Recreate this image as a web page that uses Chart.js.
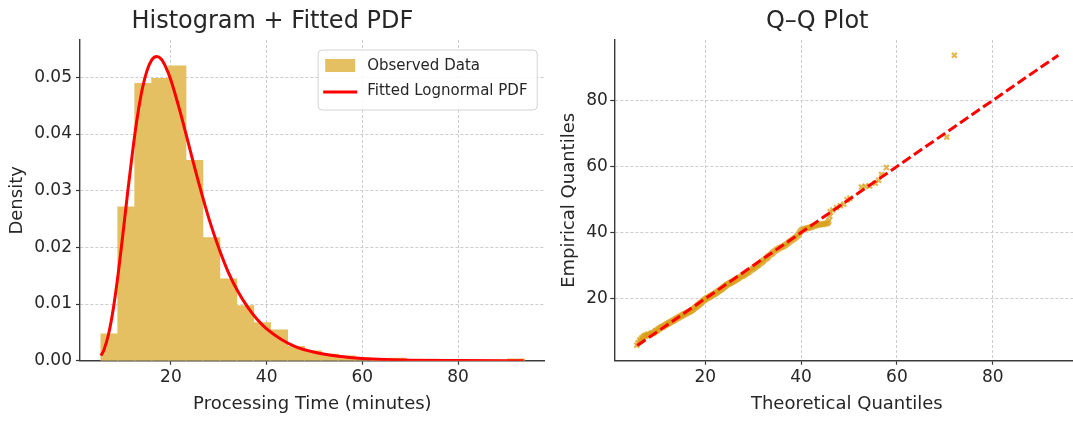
<!DOCTYPE html>
<html><head><meta charset="utf-8">
<script src="https://cdn.jsdelivr.net/npm/chart.js@4.4.0/dist/chart.umd.min.js"></script>
<style>
html,body{margin:0;padding:0;background:#fff;overflow:hidden;width:1073px;height:421px;position:relative;}
#c1{position:absolute;left:0;top:0;}
#c2{position:absolute;left:555px;top:0;}
</style></head><body>
<canvas id="c1" width="560" height="421"></canvas>
<canvas id="c2" width="540" height="421"></canvas>
<script>
// ---------- data ----------
const histTitle = 'Histogram + Fitted PDF';
const qqTitle = 'Q–Q Plot';
const histBinStart = 5.4;
const histBinWidth = 3.54;
const histDensity = [0.0047, 0.0271, 0.0489, 0.0498, 0.0520, 0.0353, 0.0217, 0.0144, 0.0097, 0.0067,
                     0.0054, 0.0025, 0.0017, 0.0011, 0.0008, 0.0004, 0.0000, 0.0004, 0.0000, 0.0000,
                     0.0000, 0.0000, 0.0000, 0.0000, 0.0003];
const pdfX = [5.4, 6, 7, 8, 9, 10, 11, 12, 13, 14, 15, 16, 17, 18, 19, 20, 22, 24, 26, 28, 30, 32, 34, 36, 38, 40,
              43, 46, 50, 55, 60, 65, 70, 80, 93.7];
const pdfY = [0.0009, 0.0019, 0.0048, 0.0094, 0.0155, 0.0226, 0.0300, 0.0370, 0.0431, 0.0479, 0.0512, 0.0531,
              0.0537, 0.0532, 0.0517, 0.0495, 0.0437, 0.0372, 0.0308, 0.0249, 0.0199, 0.0156, 0.0122, 0.0095,
              0.0073, 0.0056, 0.0038, 0.0025, 0.0015, 0.0008, 0.0004, 0.0002, 0.0001, 0.00003, 0.000005];
const histXTicks = [20, 40, 60, 80];
const histYTicks = [0, 0.01, 0.02, 0.03, 0.04, 0.05];

const qqTheoretical = [5.7, 6.0, 6.3, 6.5, 6.7, 6.9, 7.0, 7.2, 7.4, 7.6, 7.8, 8.0, 8.2, 8.4, 8.6, 8.8, 9.0, 9.2, 9.4,
  9.6, 9.8, 10.0, 10.2, 10.4, 10.6, 10.8, 11.0, 11.2, 11.4, 11.6, 11.8, 12.0, 12.2, 12.4, 12.6, 12.8, 13.0, 13.2,
  13.4, 13.6, 13.8, 14.0, 14.2, 14.4, 14.6, 14.8, 15.0, 15.2, 15.4, 15.6, 15.8, 16.0, 16.2, 16.4, 16.6, 16.8, 17.0,
  17.2, 17.4, 17.6, 17.8, 18.0, 18.2, 18.4, 18.6, 18.8, 19.0, 19.2, 19.4, 19.6, 19.8, 20.0, 20.2, 20.4, 20.6, 20.8,
  21.0, 21.2, 21.4, 21.6, 21.8, 22.0, 22.2, 22.4, 22.6, 22.8, 23.0, 23.2, 23.4, 23.6, 23.8, 24.0, 24.2, 24.4, 24.6,
  24.8, 25.0, 25.2, 25.4, 25.6, 25.8, 26.0, 26.2, 26.4, 26.6, 26.8, 27.0, 27.2, 27.5, 27.8, 28.0, 28.2, 28.5, 28.8,
  29.0, 29.2, 29.5, 29.8, 30.0, 30.2, 30.5, 30.8, 31.0, 31.2, 31.5, 31.8, 32.0, 32.2, 32.5, 32.8, 33.0, 33.2, 33.5,
  33.8, 34.0, 34.3, 34.6, 34.9, 35.2, 35.5, 35.8, 36.1, 36.4, 36.7, 37.0, 37.3, 37.6, 37.9, 38.2, 38.5, 38.8, 39.1,
  39.4, 39.6, 39.8, 40.0, 40.3, 40.6, 40.9, 41.2, 41.5, 41.8, 42.1, 42.4, 42.8, 43.1, 43.4, 43.8, 44.1, 44.5, 44.8,
  45.1, 45.4, 45.6, 45.8, 46.0, 46.1, 46.6, 47.4, 48.2, 48.9, 49.6, 50.2, 52.6, 53.4, 54.3, 55.5, 56.2, 56.8, 57.8,
  70.4, 72.0];
const qqEmpirical = [5.9, 6.6, 7.5, 7.2, 8.0, 7.7, 8.3, 8.6, 8.8, 8.7, 9.0, 9.2, 9.1, 9.0, 9.3, 9.6, 9.5, 9.6, 9.9,
  10.2, 10.3, 10.4, 10.8, 10.9, 11.1, 11.4, 11.4, 11.5, 11.8, 11.9, 12.1, 12.3, 12.4, 12.6, 12.8, 12.9, 13.1, 13.3,
  13.4, 13.5, 13.8, 14.0, 14.1, 14.2, 14.5, 14.6, 14.8, 14.9, 15.1, 15.3, 15.4, 15.5, 15.7, 15.9, 16.0, 16.1, 16.3,
  16.5, 16.7, 16.9, 17.2, 17.4, 17.6, 17.9, 18.1, 18.4, 18.6, 18.8, 19.1, 19.4, 19.6, 19.8, 20.0, 20.2, 20.3, 20.4,
  20.7, 20.8, 21.0, 21.2, 21.3, 21.5, 21.7, 21.9, 22.1, 22.3, 22.5, 22.7, 22.9, 23.1, 23.4, 23.6, 23.8, 24.1, 24.3,
  24.4, 24.6, 24.7, 24.9, 25.1, 25.2, 25.3, 25.6, 25.7, 25.9, 26.1, 26.3, 26.5, 26.7, 26.9, 27.1, 27.3, 27.5, 27.8,
  28.0, 28.3, 28.6, 28.8, 29.1, 29.3, 29.6, 29.9, 30.1, 30.4, 30.7, 31.0, 31.3, 31.6, 31.9, 32.2, 32.5, 32.9, 33.2,
  33.5, 33.8, 34.2, 34.5, 34.8, 35.1, 35.3, 35.5, 35.7, 35.9, 36.2, 36.5, 36.8, 37.2, 37.5, 37.8, 38.1, 38.4, 38.8,
  39.2, 39.7, 40.2, 40.6, 40.9, 41.0, 41.2, 41.3, 41.4, 41.5, 41.6, 41.8, 42.0, 42.2, 42.3, 42.4, 42.5, 42.5, 42.6,
  42.7, 42.8, 43.0, 43.5, 44.9, 46.3, 46.8, 47.6, 48.1, 48.6, 49.9, 50.4, 53.8, 54.0, 54.1, 54.9, 55.8, 57.6, 59.7,
  68.9, 93.7];
const qqLineX = [5.8, 93.7];
const qqLineY = [5.8, 93.7];
const qqXTicks = [20, 40, 60, 80];
const qqYTicks = [20, 40, 60, 80];

// ---------- style ----------
const FONT = 'DejaVu Sans';
const TXT = '#262626';
const BAR = 'rgb(229,192,99)';
const MARK = 'rgba(218,160,25,0.75)';
const GRID = '#cccccc';

function makeScale(o) {
  return {
    type: 'linear', min: o.min, max: o.max, offset: false,
    afterBuildTicks: s => { s.ticks = o.ticks.map(v => ({ value: v })); },
    afterFit: s => { if (o.width !== undefined) s.width = o.width; if (o.height !== undefined) s.height = o.height; },
    grid: { color: GRID, lineWidth: 1, drawTicks: true, tickLength: 4, tickColor: '#333', tickWidth: 1.2, offset: false },
    border: { display: true, color: '#3a3a3a', width: 1.4, dash: [3, 2] },
    ticks: { font: { family: FONT, size: 17 }, color: TXT, padding: o.pad, maxRotation: 0, autoSkip: false,
             callback: o.fmt },
    title: { display: true, text: o.title, font: { family: FONT, size: 18 }, color: TXT, padding: o.titlePad }
  };
}

const boxLegend = {
  id: 'boxLegend',
  afterDraw(chart) {
    const ctx = chart.ctx, a = chart.chartArea;
    const bw = 219, bh = 60;
    const x0 = a.right - 7.5 - bw, y0 = a.top + 10;
    ctx.save();
    ctx.beginPath();
    ctx.roundRect(x0, y0, bw, bh, 4);
    ctx.fillStyle = 'rgba(255,255,255,0.85)';
    ctx.fill();
    ctx.strokeStyle = '#d4d4d4';
    ctx.lineWidth = 1;
    ctx.stroke();
    const ds = chart.data.datasets;
    ctx.fillStyle = ds[1].backgroundColor;
    ctx.fillRect(x0 + 7, y0 + 9, 30, 13);
    ctx.strokeStyle = ds[0].borderColor;
    ctx.lineWidth = 3;
    ctx.beginPath();
    ctx.moveTo(x0 + 5, y0 + 42);
    ctx.lineTo(x0 + 39, y0 + 42);
    ctx.stroke();
    ctx.fillStyle = TXT;
    ctx.font = '15px "' + FONT + '"';
    ctx.textBaseline = 'middle';
    ctx.textAlign = 'left';
    ctx.fillText(ds[1].label, x0 + 49, y0 + 16.5);
    ctx.fillText(ds[0].label, x0 + 49, y0 + 41.5);
    ctx.restore();
  }
};

const titleOpts = t => ({ display: true, text: t, font: { family: FONT, size: 24, weight: 'normal' }, color: TXT,
                          padding: { top: 7, bottom: 4.2 } });

// ---------- histogram + pdf ----------
new Chart(document.getElementById('c1'), {
  type: 'bar',
  data: {
    datasets: [
      { type: 'line', label: 'Fitted Lognormal PDF', order: 0,
        data: pdfX.map((x, i) => ({ x: x, y: pdfY[i] })),
        borderColor: '#ff0000', borderWidth: 3, pointRadius: 0, cubicInterpolationMode: 'monotone', fill: false },
      { type: 'bar', label: 'Observed Data', order: 1,
        data: histDensity.map((d, i) => ({ x: histBinStart + histBinWidth * (i + 0.5), y: d })),
        backgroundColor: BAR, borderWidth: 0, barPercentage: 1, categoryPercentage: 1, inflateAmount: 0.6 }
    ]
  },
  options: {
    responsive: false, animation: false, devicePixelRatio: 1,
    layout: { padding: { left: 0, right: 15.3, top: 0, bottom: 0 } },
    plugins: { legend: { display: false }, tooltip: { enabled: false }, title: titleOpts(histTitle) },
    scales: {
      x: makeScale({ min: 1.0, max: 98.1, ticks: histXTicks, height: 60.3, pad: 3, fmt: v => String(v),
                     title: 'Processing Time (minutes)', titlePad: { top: 0, bottom: 6 } }),
      y: makeScale({ min: 0, max: 0.0566, ticks: histYTicks, width: 80, pad: 4, fmt: v => v.toFixed(2),
                     title: 'Density', titlePad: { top: 7, bottom: 0 } })
    }
  },
  plugins: [boxLegend]
});

// ---------- Q-Q plot ----------
new Chart(document.getElementById('c2'), {
  type: 'scatter',
  data: {
    datasets: [
      { type: 'line', label: 'Reference', order: 0,
        data: qqLineX.map((x, i) => ({ x: x, y: qqLineY[i] })),
        borderColor: '#ff0000', borderWidth: 3, borderDash: [10, 4], pointRadius: 0, fill: false },
      { type: 'scatter', label: 'Quantiles', order: 1,
        data: qqTheoretical.map((x, i) => ({ x: x, y: qqEmpirical[i] })),
        pointStyle: 'crossRot', pointRadius: 3.5, borderWidth: 2.2, borderColor: MARK, backgroundColor: MARK }
    ]
  },
  options: {
    responsive: false, animation: false, devicePixelRatio: 1,
    layout: { padding: { left: 0, right: 15.6, top: 0, bottom: 0 } },
    plugins: { legend: { display: false }, tooltip: { enabled: false }, title: titleOpts(qqTitle) },
    scales: {
      x: makeScale({ min: 1.0, max: 98.1, ticks: qqXTicks, height: 60.3, pad: 3, fmt: v => String(v),
                     title: 'Theoretical Quantiles', titlePad: { top: 0, bottom: 6 } }),
      y: makeScale({ min: 1.2, max: 98.3, ticks: qqYTicks, width: 59.3, pad: 2.5, fmt: v => String(v),
                     title: 'Empirical Quantiles', titlePad: { top: 3.2, bottom: 0 } })
    }
  }
});
</script>
</body></html>
